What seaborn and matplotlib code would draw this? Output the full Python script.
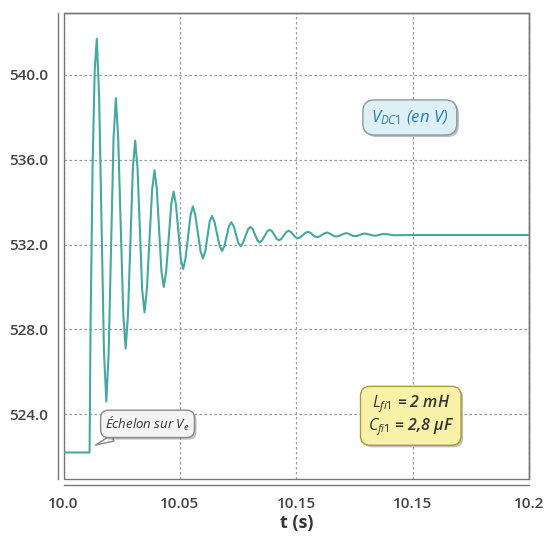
import matplotlib
matplotlib.use('Agg')
import matplotlib.pyplot as plt
import matplotlib.patheffects as pe
from matplotlib.patches import Rectangle
import pandas as pd
import seaborn as sns

# DC bus voltage V_DC1
t_before = [10.0, 10.0112]
v_before = [522.2, 522.2]
t_rise = [10.0116, 10.0125, 10.0134]
v_rise = [528.0, 535.7, 540.2]
# peaks / troughs of the ringing after the step
t_ring = [10.0143, 10.0184, 10.0225, 10.0267, 10.0308, 10.0348, 10.0391, 10.0431,
          10.0473, 10.0514, 10.0556, 10.0599, 10.0638, 10.0681, 10.0721, 10.0761,
          10.0803, 10.0843, 10.0886, 10.0926, 10.0967, 10.1007, 10.1050, 10.1089,
          10.1132, 10.1172, 10.1215, 10.1253, 10.1294, 10.1337, 10.1378, 10.1419]
v_ring = [541.7, 524.6, 538.9, 527.1, 536.9, 528.8, 535.5, 530.0,
          534.5, 530.85, 533.8, 531.35, 533.35, 531.7, 533.05, 531.92,
          532.83, 532.1, 532.7, 532.2, 532.65, 532.3, 532.6, 532.35,
          532.57, 532.38, 532.54, 532.4, 532.52, 532.42, 532.5, 532.44]
# shoulders on each side of the peaks / troughs (rounded tops of the waves)
t_shoulder = [10.0153,
              10.0174, 10.0194, 10.0215, 10.0235, 10.0257, 10.0277, 10.0298, 10.0318,
              10.0338, 10.0358, 10.0381, 10.0401, 10.0421, 10.0441, 10.0463, 10.0483,
              10.0504, 10.0524, 10.0546, 10.0566, 10.0589, 10.0609, 10.0628, 10.0648,
              10.0671, 10.0691, 10.0711, 10.0731, 10.0751, 10.0771, 10.0793, 10.0813,
              10.0833, 10.0853, 10.0876, 10.0896, 10.0916, 10.0936, 10.0957, 10.0977,
              10.0997, 10.1017, 10.1040, 10.1060, 10.1079, 10.1099, 10.1122, 10.1142,
              10.1162, 10.1182, 10.1205, 10.1225, 10.1243, 10.1263, 10.1284, 10.1304,
              10.1327, 10.1347, 10.1368, 10.1388]
v_shoulder = [538.99,
              526.90, 526.90, 537.01, 537.01, 528.67, 528.67, 535.60, 535.60,
              529.87, 529.87, 534.61, 534.61, 530.72, 530.72, 533.90, 533.90,
              531.32, 531.32, 533.40, 533.40, 531.67, 531.67, 533.09, 533.09,
              531.92, 531.92, 532.87, 532.87, 532.08, 532.08, 532.72, 532.72,
              532.20, 532.20, 532.63, 532.63, 532.27, 532.27, 532.59, 532.59,
              532.34, 532.34, 532.56, 532.56, 532.38, 532.38, 532.53, 532.53,
              532.40, 532.40, 532.51, 532.51, 532.41, 532.41, 532.50, 532.50,
              532.43, 532.43, 532.49, 532.49]
t_settled = [10.15, 10.2]
v_settled = [532.45, 532.45]

x_ticks = [10.0, 10.05, 10.1, 10.15, 10.2]
x_labels = ['10.0', '10.05', '10.15', '10.15', '10.2']   # as printed on the original
y_ticks = [524.0, 528.0, 532.0, 536.0, 540.0]

df = pd.DataFrame({
    't': t_before + t_rise + t_ring + t_shoulder + t_settled,
    'v': v_before + v_rise + v_ring + v_shoulder + v_settled,
}).sort_values('t')

sns.set_style('white')
plt.rcParams['font.family'] = ['Open Sans', 'DejaVu Sans']
plt.rcParams['mathtext.fontset'] = 'custom'
plt.rcParams['mathtext.rm'] = 'Open Sans'
plt.rcParams['mathtext.it'] = 'Open Sans:italic'
plt.rcParams['mathtext.bf'] = 'Open Sans:bold'

fig = plt.figure(figsize=(5.47, 5.36), dpi=100)
ax = fig.add_axes([0.1161, 0.1063, 0.851, 0.8689])

sns.lineplot(data=df, x='t', y='v', ax=ax, color='#45a8a1', linewidth=1.5,
             estimator=None, sort=False)

ax.set_xlim(10.0, 10.2)
ax.set_ylim(520.95, 542.9)
ax.set_xticks(x_ticks)
ax.set_xticklabels(x_labels)
ax.set_yticks(y_ticks)
ax.set_yticklabels([f'{v:.1f}' for v in y_ticks])
ax.set_xlabel('t (s)', fontsize=13, fontweight='bold', color='#333333', labelpad=2)
ax.set_ylabel('')

ax.grid(True, color='#9a9a9a', linestyle=(0, (2, 2)), linewidth=0.9)

# offset axis lines + inner box frame
for side in ['left', 'bottom']:
    ax.spines[side].set_position(('outward', 4))
for side in ax.spines:
    ax.spines[side].set_color('#777777')
    ax.spines[side].set_linewidth(1.0)
ax.add_patch(Rectangle((0, 0), 1, 1, transform=ax.transAxes, fill=False,
                       edgecolor='#777777', linewidth=1.0, clip_on=False))

ax.tick_params(axis='y', length=5, width=1, color='#777777', labelsize=11,
               labelcolor='#444444', pad=2)
ax.tick_params(axis='x', length=4, width=1, color='#777777', labelsize=11,
               labelcolor='#444444', pad=5)
for lab in ax.get_xticklabels() + ax.get_yticklabels():
    lab.set_fontweight('semibold')

shadow = [pe.withSimplePatchShadow(offset=(1.5, -1.5), alpha=0.35)]

t1 = ax.text(10.1488, 537.99, r'$V_{DC1}$ (en V)', ha='center', va='center',
             fontsize=12, style='italic', color='#2a7db0',
             bbox=dict(boxstyle='round,pad=0.5,rounding_size=0.7',
                       facecolor='#dcf0f6', edgecolor='#8a9aa0', linewidth=1))
t1.get_bbox_patch().set_path_effects(shadow)

t2 = ax.text(10.1492, 523.93, '$L_{fi1}$ = 2 mH\n$C_{fi1}$ = 2,8 µF', ha='center',
             va='center', fontsize=11.5, style='italic', fontweight='semibold',
             color='#333333', linespacing=1.05,
             bbox=dict(boxstyle='round,pad=0.45,rounding_size=0.6',
                       facecolor='#f8f1a8', edgecolor='#a89a40', linewidth=1))
t2.get_bbox_patch().set_path_effects(shadow)

t3 = ax.annotate('Échelon sur $V_e$', xy=(10.0137, 522.55), xytext=(10.0361, 523.55),
                 ha='center', va='center', fontsize=9.5, style='italic',
                 color='#333333',
                 bbox=dict(boxstyle='round,pad=0.35,rounding_size=0.6',
                           facecolor='#f4f4f4', edgecolor='#8a8a8a', linewidth=1),
                 arrowprops=dict(arrowstyle='wedge,tail_width=0.5', facecolor='#f4f4f4',
                                 edgecolor='#8a8a8a', linewidth=1,
                                 shrinkA=0, shrinkB=0))
t3.get_bbox_patch().set_path_effects(shadow)

fig.savefig('out.png', dpi=100)
